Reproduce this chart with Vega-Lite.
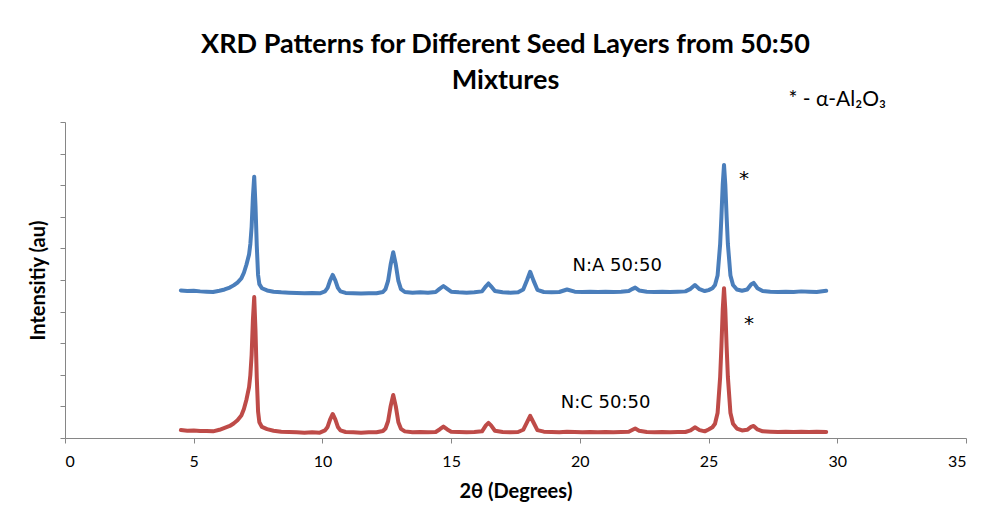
{
  "$schema": "https://vega.github.io/schema/vega-lite/v6.json",
  "autosize": {"type": "none"},
  "width": 901,
  "height": 316,
  "padding": {"left": 65, "top": 122, "right": 19, "bottom": 81},
  "background": "white",
  "config": {"view": {"stroke": null}},
  "title": {
    "text": ["XRD Patterns for Different Seed Layers from 50:50", "Mixtures"],
    "font": "Lato",
    "fontSize": 27,
    "fontWeight": "bold",
    "color": "#000000",
    "lineHeight": 36,
    "anchor": "middle",
    "dx": -10,
    "offset": -6
  },
  "datasets": {
    "patterns": [
      {"theta": 4.5, "intensity": 4.67, "sample": "N:A 50:50"},
      {"theta": 4.75, "intensity": 4.65, "sample": "N:A 50:50"},
      {"theta": 5.0, "intensity": 4.66, "sample": "N:A 50:50"},
      {"theta": 5.25, "intensity": 4.64, "sample": "N:A 50:50"},
      {"theta": 5.5, "intensity": 4.63, "sample": "N:A 50:50"},
      {"theta": 5.75, "intensity": 4.62, "sample": "N:A 50:50"},
      {"theta": 6.0, "intensity": 4.66, "sample": "N:A 50:50"},
      {"theta": 6.2, "intensity": 4.7, "sample": "N:A 50:50"},
      {"theta": 6.4, "intensity": 4.76, "sample": "N:A 50:50"},
      {"theta": 6.55, "intensity": 4.83, "sample": "N:A 50:50"},
      {"theta": 6.7, "intensity": 4.92, "sample": "N:A 50:50"},
      {"theta": 6.85, "intensity": 5.05, "sample": "N:A 50:50"},
      {"theta": 6.95, "intensity": 5.23, "sample": "N:A 50:50"},
      {"theta": 7.05, "intensity": 5.49, "sample": "N:A 50:50"},
      {"theta": 7.15, "intensity": 5.81, "sample": "N:A 50:50"},
      {"theta": 7.2, "intensity": 6.14, "sample": "N:A 50:50"},
      {"theta": 7.25, "intensity": 6.69, "sample": "N:A 50:50"},
      {"theta": 7.3, "intensity": 7.64, "sample": "N:A 50:50"},
      {"theta": 7.35, "intensity": 8.27, "sample": "N:A 50:50"},
      {"theta": 7.4, "intensity": 7.35, "sample": "N:A 50:50"},
      {"theta": 7.45, "intensity": 6.07, "sample": "N:A 50:50"},
      {"theta": 7.5, "intensity": 5.16, "sample": "N:A 50:50"},
      {"theta": 7.55, "intensity": 4.87, "sample": "N:A 50:50"},
      {"theta": 7.65, "intensity": 4.74, "sample": "N:A 50:50"},
      {"theta": 7.85, "intensity": 4.67, "sample": "N:A 50:50"},
      {"theta": 8.1, "intensity": 4.63, "sample": "N:A 50:50"},
      {"theta": 8.4, "intensity": 4.61, "sample": "N:A 50:50"},
      {"theta": 8.7, "intensity": 4.6, "sample": "N:A 50:50"},
      {"theta": 9.0, "intensity": 4.59, "sample": "N:A 50:50"},
      {"theta": 9.3, "intensity": 4.58, "sample": "N:A 50:50"},
      {"theta": 9.6, "intensity": 4.59, "sample": "N:A 50:50"},
      {"theta": 9.9, "intensity": 4.58, "sample": "N:A 50:50"},
      {"theta": 10.1, "intensity": 4.64, "sample": "N:A 50:50"},
      {"theta": 10.2, "intensity": 4.75, "sample": "N:A 50:50"},
      {"theta": 10.3, "intensity": 4.99, "sample": "N:A 50:50"},
      {"theta": 10.4, "intensity": 5.16, "sample": "N:A 50:50"},
      {"theta": 10.5, "intensity": 4.99, "sample": "N:A 50:50"},
      {"theta": 10.6, "intensity": 4.75, "sample": "N:A 50:50"},
      {"theta": 10.7, "intensity": 4.64, "sample": "N:A 50:50"},
      {"theta": 10.9, "intensity": 4.59, "sample": "N:A 50:50"},
      {"theta": 11.2, "intensity": 4.58, "sample": "N:A 50:50"},
      {"theta": 11.5, "intensity": 4.57, "sample": "N:A 50:50"},
      {"theta": 11.8, "intensity": 4.58, "sample": "N:A 50:50"},
      {"theta": 12.1, "intensity": 4.58, "sample": "N:A 50:50"},
      {"theta": 12.35, "intensity": 4.62, "sample": "N:A 50:50"},
      {"theta": 12.45, "intensity": 4.71, "sample": "N:A 50:50"},
      {"theta": 12.55, "intensity": 4.97, "sample": "N:A 50:50"},
      {"theta": 12.65, "intensity": 5.49, "sample": "N:A 50:50"},
      {"theta": 12.75, "intensity": 5.88, "sample": "N:A 50:50"},
      {"theta": 12.85, "intensity": 5.49, "sample": "N:A 50:50"},
      {"theta": 12.95, "intensity": 4.97, "sample": "N:A 50:50"},
      {"theta": 13.05, "intensity": 4.71, "sample": "N:A 50:50"},
      {"theta": 13.2, "intensity": 4.62, "sample": "N:A 50:50"},
      {"theta": 13.5, "intensity": 4.6, "sample": "N:A 50:50"},
      {"theta": 13.8, "intensity": 4.61, "sample": "N:A 50:50"},
      {"theta": 14.1, "intensity": 4.6, "sample": "N:A 50:50"},
      {"theta": 14.4, "intensity": 4.62, "sample": "N:A 50:50"},
      {"theta": 14.55, "intensity": 4.72, "sample": "N:A 50:50"},
      {"theta": 14.7, "intensity": 4.81, "sample": "N:A 50:50"},
      {"theta": 14.85, "intensity": 4.72, "sample": "N:A 50:50"},
      {"theta": 15.0, "intensity": 4.63, "sample": "N:A 50:50"},
      {"theta": 15.3, "intensity": 4.61, "sample": "N:A 50:50"},
      {"theta": 15.6, "intensity": 4.6, "sample": "N:A 50:50"},
      {"theta": 15.9, "intensity": 4.61, "sample": "N:A 50:50"},
      {"theta": 16.2, "intensity": 4.64, "sample": "N:A 50:50"},
      {"theta": 16.35, "intensity": 4.8, "sample": "N:A 50:50"},
      {"theta": 16.45, "intensity": 4.89, "sample": "N:A 50:50"},
      {"theta": 16.55, "intensity": 4.8, "sample": "N:A 50:50"},
      {"theta": 16.7, "intensity": 4.65, "sample": "N:A 50:50"},
      {"theta": 17.0, "intensity": 4.61, "sample": "N:A 50:50"},
      {"theta": 17.3, "intensity": 4.6, "sample": "N:A 50:50"},
      {"theta": 17.6, "intensity": 4.61, "sample": "N:A 50:50"},
      {"theta": 17.8, "intensity": 4.7, "sample": "N:A 50:50"},
      {"theta": 17.95, "intensity": 5.0, "sample": "N:A 50:50"},
      {"theta": 18.07, "intensity": 5.26, "sample": "N:A 50:50"},
      {"theta": 18.2, "intensity": 4.98, "sample": "N:A 50:50"},
      {"theta": 18.35, "intensity": 4.69, "sample": "N:A 50:50"},
      {"theta": 18.6, "intensity": 4.62, "sample": "N:A 50:50"},
      {"theta": 18.9, "intensity": 4.61, "sample": "N:A 50:50"},
      {"theta": 19.2, "intensity": 4.62, "sample": "N:A 50:50"},
      {"theta": 19.5, "intensity": 4.7, "sample": "N:A 50:50"},
      {"theta": 19.8, "intensity": 4.63, "sample": "N:A 50:50"},
      {"theta": 20.1, "intensity": 4.62, "sample": "N:A 50:50"},
      {"theta": 20.4, "intensity": 4.63, "sample": "N:A 50:50"},
      {"theta": 20.7, "intensity": 4.62, "sample": "N:A 50:50"},
      {"theta": 21.0, "intensity": 4.63, "sample": "N:A 50:50"},
      {"theta": 21.3, "intensity": 4.62, "sample": "N:A 50:50"},
      {"theta": 21.6, "intensity": 4.63, "sample": "N:A 50:50"},
      {"theta": 21.9, "intensity": 4.65, "sample": "N:A 50:50"},
      {"theta": 22.05, "intensity": 4.72, "sample": "N:A 50:50"},
      {"theta": 22.15, "intensity": 4.76, "sample": "N:A 50:50"},
      {"theta": 22.3, "intensity": 4.67, "sample": "N:A 50:50"},
      {"theta": 22.6, "intensity": 4.63, "sample": "N:A 50:50"},
      {"theta": 22.9, "intensity": 4.62, "sample": "N:A 50:50"},
      {"theta": 23.2, "intensity": 4.63, "sample": "N:A 50:50"},
      {"theta": 23.5, "intensity": 4.62, "sample": "N:A 50:50"},
      {"theta": 23.8, "intensity": 4.63, "sample": "N:A 50:50"},
      {"theta": 24.1, "intensity": 4.64, "sample": "N:A 50:50"},
      {"theta": 24.3, "intensity": 4.72, "sample": "N:A 50:50"},
      {"theta": 24.47, "intensity": 4.84, "sample": "N:A 50:50"},
      {"theta": 24.65, "intensity": 4.71, "sample": "N:A 50:50"},
      {"theta": 24.85, "intensity": 4.65, "sample": "N:A 50:50"},
      {"theta": 25.0, "intensity": 4.68, "sample": "N:A 50:50"},
      {"theta": 25.15, "intensity": 4.74, "sample": "N:A 50:50"},
      {"theta": 25.25, "intensity": 4.84, "sample": "N:A 50:50"},
      {"theta": 25.35, "intensity": 5.14, "sample": "N:A 50:50"},
      {"theta": 25.45, "intensity": 6.14, "sample": "N:A 50:50"},
      {"theta": 25.5, "intensity": 7.02, "sample": "N:A 50:50"},
      {"theta": 25.55, "intensity": 8.02, "sample": "N:A 50:50"},
      {"theta": 25.6, "intensity": 8.64, "sample": "N:A 50:50"},
      {"theta": 25.65, "intensity": 8.02, "sample": "N:A 50:50"},
      {"theta": 25.7, "intensity": 7.02, "sample": "N:A 50:50"},
      {"theta": 25.75, "intensity": 6.14, "sample": "N:A 50:50"},
      {"theta": 25.85, "intensity": 5.14, "sample": "N:A 50:50"},
      {"theta": 25.95, "intensity": 4.84, "sample": "N:A 50:50"},
      {"theta": 26.1, "intensity": 4.7, "sample": "N:A 50:50"},
      {"theta": 26.3, "intensity": 4.66, "sample": "N:A 50:50"},
      {"theta": 26.5, "intensity": 4.7, "sample": "N:A 50:50"},
      {"theta": 26.65, "intensity": 4.86, "sample": "N:A 50:50"},
      {"theta": 26.75, "intensity": 4.91, "sample": "N:A 50:50"},
      {"theta": 26.9, "intensity": 4.74, "sample": "N:A 50:50"},
      {"theta": 27.1, "intensity": 4.65, "sample": "N:A 50:50"},
      {"theta": 27.4, "intensity": 4.63, "sample": "N:A 50:50"},
      {"theta": 27.7, "intensity": 4.62, "sample": "N:A 50:50"},
      {"theta": 28.0, "intensity": 4.63, "sample": "N:A 50:50"},
      {"theta": 28.3, "intensity": 4.62, "sample": "N:A 50:50"},
      {"theta": 28.6, "intensity": 4.64, "sample": "N:A 50:50"},
      {"theta": 28.9, "intensity": 4.63, "sample": "N:A 50:50"},
      {"theta": 29.2, "intensity": 4.62, "sample": "N:A 50:50"},
      {"theta": 29.57, "intensity": 4.66, "sample": "N:A 50:50"},
      {"theta": 4.5, "intensity": 0.25, "sample": "N:C 50:50"},
      {"theta": 4.75, "intensity": 0.23, "sample": "N:C 50:50"},
      {"theta": 5.0, "intensity": 0.24, "sample": "N:C 50:50"},
      {"theta": 5.25, "intensity": 0.22, "sample": "N:C 50:50"},
      {"theta": 5.5, "intensity": 0.22, "sample": "N:C 50:50"},
      {"theta": 5.75, "intensity": 0.21, "sample": "N:C 50:50"},
      {"theta": 6.0, "intensity": 0.26, "sample": "N:C 50:50"},
      {"theta": 6.2, "intensity": 0.32, "sample": "N:C 50:50"},
      {"theta": 6.4, "intensity": 0.38, "sample": "N:C 50:50"},
      {"theta": 6.55, "intensity": 0.46, "sample": "N:C 50:50"},
      {"theta": 6.7, "intensity": 0.56, "sample": "N:C 50:50"},
      {"theta": 6.85, "intensity": 0.71, "sample": "N:C 50:50"},
      {"theta": 6.95, "intensity": 0.92, "sample": "N:C 50:50"},
      {"theta": 7.05, "intensity": 1.22, "sample": "N:C 50:50"},
      {"theta": 7.15, "intensity": 1.61, "sample": "N:C 50:50"},
      {"theta": 7.2, "intensity": 1.99, "sample": "N:C 50:50"},
      {"theta": 7.25, "intensity": 2.63, "sample": "N:C 50:50"},
      {"theta": 7.3, "intensity": 3.74, "sample": "N:C 50:50"},
      {"theta": 7.35, "intensity": 4.46, "sample": "N:C 50:50"},
      {"theta": 7.4, "intensity": 3.4, "sample": "N:C 50:50"},
      {"theta": 7.45, "intensity": 1.9, "sample": "N:C 50:50"},
      {"theta": 7.5, "intensity": 0.84, "sample": "N:C 50:50"},
      {"theta": 7.55, "intensity": 0.5, "sample": "N:C 50:50"},
      {"theta": 7.65, "intensity": 0.35, "sample": "N:C 50:50"},
      {"theta": 7.85, "intensity": 0.28, "sample": "N:C 50:50"},
      {"theta": 8.1, "intensity": 0.23, "sample": "N:C 50:50"},
      {"theta": 8.4, "intensity": 0.2, "sample": "N:C 50:50"},
      {"theta": 8.7, "intensity": 0.19, "sample": "N:C 50:50"},
      {"theta": 9.0, "intensity": 0.18, "sample": "N:C 50:50"},
      {"theta": 9.3, "intensity": 0.17, "sample": "N:C 50:50"},
      {"theta": 9.6, "intensity": 0.18, "sample": "N:C 50:50"},
      {"theta": 9.9, "intensity": 0.17, "sample": "N:C 50:50"},
      {"theta": 10.1, "intensity": 0.24, "sample": "N:C 50:50"},
      {"theta": 10.2, "intensity": 0.35, "sample": "N:C 50:50"},
      {"theta": 10.3, "intensity": 0.59, "sample": "N:C 50:50"},
      {"theta": 10.4, "intensity": 0.76, "sample": "N:C 50:50"},
      {"theta": 10.5, "intensity": 0.59, "sample": "N:C 50:50"},
      {"theta": 10.6, "intensity": 0.35, "sample": "N:C 50:50"},
      {"theta": 10.7, "intensity": 0.24, "sample": "N:C 50:50"},
      {"theta": 10.9, "intensity": 0.19, "sample": "N:C 50:50"},
      {"theta": 11.2, "intensity": 0.18, "sample": "N:C 50:50"},
      {"theta": 11.5, "intensity": 0.17, "sample": "N:C 50:50"},
      {"theta": 11.8, "intensity": 0.18, "sample": "N:C 50:50"},
      {"theta": 12.1, "intensity": 0.18, "sample": "N:C 50:50"},
      {"theta": 12.35, "intensity": 0.22, "sample": "N:C 50:50"},
      {"theta": 12.45, "intensity": 0.3, "sample": "N:C 50:50"},
      {"theta": 12.55, "intensity": 0.53, "sample": "N:C 50:50"},
      {"theta": 12.65, "intensity": 1.01, "sample": "N:C 50:50"},
      {"theta": 12.75, "intensity": 1.36, "sample": "N:C 50:50"},
      {"theta": 12.85, "intensity": 1.0, "sample": "N:C 50:50"},
      {"theta": 12.95, "intensity": 0.5, "sample": "N:C 50:50"},
      {"theta": 13.05, "intensity": 0.29, "sample": "N:C 50:50"},
      {"theta": 13.2, "intensity": 0.21, "sample": "N:C 50:50"},
      {"theta": 13.5, "intensity": 0.18, "sample": "N:C 50:50"},
      {"theta": 13.8, "intensity": 0.19, "sample": "N:C 50:50"},
      {"theta": 14.1, "intensity": 0.18, "sample": "N:C 50:50"},
      {"theta": 14.4, "intensity": 0.19, "sample": "N:C 50:50"},
      {"theta": 14.55, "intensity": 0.27, "sample": "N:C 50:50"},
      {"theta": 14.7, "intensity": 0.36, "sample": "N:C 50:50"},
      {"theta": 14.85, "intensity": 0.27, "sample": "N:C 50:50"},
      {"theta": 15.0, "intensity": 0.2, "sample": "N:C 50:50"},
      {"theta": 15.3, "intensity": 0.19, "sample": "N:C 50:50"},
      {"theta": 15.6, "intensity": 0.18, "sample": "N:C 50:50"},
      {"theta": 15.9, "intensity": 0.19, "sample": "N:C 50:50"},
      {"theta": 16.2, "intensity": 0.21, "sample": "N:C 50:50"},
      {"theta": 16.35, "intensity": 0.4, "sample": "N:C 50:50"},
      {"theta": 16.45, "intensity": 0.48, "sample": "N:C 50:50"},
      {"theta": 16.55, "intensity": 0.4, "sample": "N:C 50:50"},
      {"theta": 16.7, "intensity": 0.23, "sample": "N:C 50:50"},
      {"theta": 17.0, "intensity": 0.19, "sample": "N:C 50:50"},
      {"theta": 17.3, "intensity": 0.18, "sample": "N:C 50:50"},
      {"theta": 17.6, "intensity": 0.19, "sample": "N:C 50:50"},
      {"theta": 17.8, "intensity": 0.26, "sample": "N:C 50:50"},
      {"theta": 17.95, "intensity": 0.5, "sample": "N:C 50:50"},
      {"theta": 18.07, "intensity": 0.7, "sample": "N:C 50:50"},
      {"theta": 18.2, "intensity": 0.49, "sample": "N:C 50:50"},
      {"theta": 18.35, "intensity": 0.25, "sample": "N:C 50:50"},
      {"theta": 18.6, "intensity": 0.2, "sample": "N:C 50:50"},
      {"theta": 18.9, "intensity": 0.19, "sample": "N:C 50:50"},
      {"theta": 19.2, "intensity": 0.18, "sample": "N:C 50:50"},
      {"theta": 19.5, "intensity": 0.2, "sample": "N:C 50:50"},
      {"theta": 19.8, "intensity": 0.19, "sample": "N:C 50:50"},
      {"theta": 20.1, "intensity": 0.18, "sample": "N:C 50:50"},
      {"theta": 20.4, "intensity": 0.19, "sample": "N:C 50:50"},
      {"theta": 20.7, "intensity": 0.18, "sample": "N:C 50:50"},
      {"theta": 21.0, "intensity": 0.19, "sample": "N:C 50:50"},
      {"theta": 21.3, "intensity": 0.18, "sample": "N:C 50:50"},
      {"theta": 21.6, "intensity": 0.19, "sample": "N:C 50:50"},
      {"theta": 21.9, "intensity": 0.2, "sample": "N:C 50:50"},
      {"theta": 22.05, "intensity": 0.26, "sample": "N:C 50:50"},
      {"theta": 22.15, "intensity": 0.3, "sample": "N:C 50:50"},
      {"theta": 22.3, "intensity": 0.23, "sample": "N:C 50:50"},
      {"theta": 22.6, "intensity": 0.19, "sample": "N:C 50:50"},
      {"theta": 22.9, "intensity": 0.18, "sample": "N:C 50:50"},
      {"theta": 23.2, "intensity": 0.19, "sample": "N:C 50:50"},
      {"theta": 23.5, "intensity": 0.18, "sample": "N:C 50:50"},
      {"theta": 23.8, "intensity": 0.19, "sample": "N:C 50:50"},
      {"theta": 24.1, "intensity": 0.19, "sample": "N:C 50:50"},
      {"theta": 24.3, "intensity": 0.24, "sample": "N:C 50:50"},
      {"theta": 24.47, "intensity": 0.34, "sample": "N:C 50:50"},
      {"theta": 24.65, "intensity": 0.25, "sample": "N:C 50:50"},
      {"theta": 24.85, "intensity": 0.21, "sample": "N:C 50:50"},
      {"theta": 25.0, "intensity": 0.27, "sample": "N:C 50:50"},
      {"theta": 25.15, "intensity": 0.34, "sample": "N:C 50:50"},
      {"theta": 25.25, "intensity": 0.45, "sample": "N:C 50:50"},
      {"theta": 25.35, "intensity": 0.79, "sample": "N:C 50:50"},
      {"theta": 25.45, "intensity": 1.93, "sample": "N:C 50:50"},
      {"theta": 25.5, "intensity": 2.92, "sample": "N:C 50:50"},
      {"theta": 25.55, "intensity": 4.06, "sample": "N:C 50:50"},
      {"theta": 25.6, "intensity": 4.74, "sample": "N:C 50:50"},
      {"theta": 25.65, "intensity": 4.06, "sample": "N:C 50:50"},
      {"theta": 25.7, "intensity": 2.92, "sample": "N:C 50:50"},
      {"theta": 25.75, "intensity": 1.93, "sample": "N:C 50:50"},
      {"theta": 25.85, "intensity": 0.79, "sample": "N:C 50:50"},
      {"theta": 25.95, "intensity": 0.45, "sample": "N:C 50:50"},
      {"theta": 26.1, "intensity": 0.3, "sample": "N:C 50:50"},
      {"theta": 26.3, "intensity": 0.24, "sample": "N:C 50:50"},
      {"theta": 26.5, "intensity": 0.26, "sample": "N:C 50:50"},
      {"theta": 26.65, "intensity": 0.35, "sample": "N:C 50:50"},
      {"theta": 26.75, "intensity": 0.38, "sample": "N:C 50:50"},
      {"theta": 26.9, "intensity": 0.27, "sample": "N:C 50:50"},
      {"theta": 27.1, "intensity": 0.21, "sample": "N:C 50:50"},
      {"theta": 27.4, "intensity": 0.2, "sample": "N:C 50:50"},
      {"theta": 27.7, "intensity": 0.19, "sample": "N:C 50:50"},
      {"theta": 28.0, "intensity": 0.2, "sample": "N:C 50:50"},
      {"theta": 28.3, "intensity": 0.19, "sample": "N:C 50:50"},
      {"theta": 28.6, "intensity": 0.2, "sample": "N:C 50:50"},
      {"theta": 28.9, "intensity": 0.19, "sample": "N:C 50:50"},
      {"theta": 29.2, "intensity": 0.2, "sample": "N:C 50:50"},
      {"theta": 29.57, "intensity": 0.19, "sample": "N:C 50:50"}
    ],
    "sampleLabels": [
      {"theta": 21.45, "intensity": 5.44, "label": "N:A 50:50"},
      {"theta": 21.0, "intensity": 1.1, "label": "N:C 50:50"}
    ],
    "stars": [
      {"theta": 26.38, "intensity": 8.2, "label": "*"},
      {"theta": 26.57, "intensity": 3.6, "label": "*"}
    ],
    "key": [
      {"theta": 30.0, "intensity": 10.7, "label": "* - α-Al₂O₃"}
    ]
  },
  "layer": [
    {
      "data": {"name": "patterns"},
      "mark": {"type": "line", "strokeWidth": 4, "strokeJoin": "round", "strokeCap": "round", "clip": false},
      "encoding": {
        "x": {
          "field": "theta",
          "type": "quantitative",
          "scale": {"domain": [0, 35], "nice": false, "zero": false},
          "axis": {
            "title": "2θ (Degrees)",
            "values": [0, 5, 10, 15, 20, 25, 30, 35],
            "tickCount": 8,
            "grid": false,
            "domainColor": "#868686",
            "tickColor": "#868686",
            "tickSize": 5,
            "labelFont": "Lato",
            "labelFontSize": 16,
            "labelColor": "#000000",
            "labelPadding": 10,
            "titleFont": "Lato",
            "titleFontSize": 20,
            "titleFontWeight": "bold",
            "titleColor": "#000000",
            "titlePadding": 12
          }
        },
        "y": {
          "field": "intensity",
          "type": "quantitative",
          "scale": {"domain": [0, 10], "nice": false},
          "axis": {
            "title": "Intensitiy (au)",
            "values": [0, 1, 2, 3, 4, 5, 6, 7, 8, 9, 10],
            "tickCount": 11,
            "labels": false,
            "grid": false,
            "domainColor": "#868686",
            "tickColor": "#868686",
            "tickSize": 5,
            "titleFont": "Lato",
            "titleFontSize": 20,
            "titleFontWeight": "bold",
            "titleColor": "#000000",
            "titlePadding": 11
          }
        },
        "color": {
          "field": "sample",
          "type": "nominal",
          "scale": {"domain": ["N:A 50:50", "N:C 50:50"], "range": ["#4A7EBB", "#BE4B48"]},
          "legend": null
        },
        "order": {"field": "theta", "type": "quantitative"}
      }
    },
    {
      "data": {"name": "sampleLabels"},
      "mark": {"type": "text", "font": "DejaVu Sans", "fontSize": 18, "color": "#000000", "align": "center", "baseline": "middle"},
      "encoding": {
        "x": {"field": "theta", "type": "quantitative"},
        "y": {"field": "intensity", "type": "quantitative"},
        "text": {"field": "label"}
      }
    },
    {
      "data": {"name": "stars"},
      "mark": {"type": "text", "font": "DejaVu Sans", "fontSize": 20, "color": "#000000", "align": "center", "baseline": "middle"},
      "encoding": {
        "x": {"field": "theta", "type": "quantitative"},
        "y": {"field": "intensity", "type": "quantitative"},
        "text": {"field": "label"}
      }
    },
    {
      "data": {"name": "key"},
      "mark": {"type": "text", "font": "Lato", "fontSize": 21, "color": "#000000", "align": "center", "baseline": "middle", "clip": false},
      "encoding": {
        "x": {"field": "theta", "type": "quantitative"},
        "y": {"field": "intensity", "type": "quantitative"},
        "text": {"field": "label"}
      }
    }
  ]
}
